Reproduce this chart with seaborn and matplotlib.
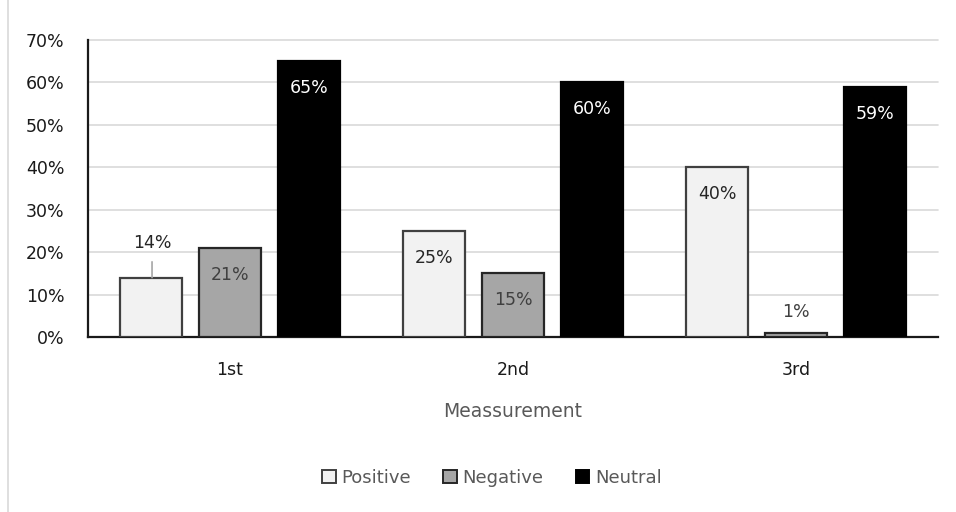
import matplotlib
matplotlib.use("Agg")
import matplotlib.pyplot as plt
import seaborn as sns
import pandas as pd
from matplotlib.lines import Line2D
from matplotlib.ticker import PercentFormatter

# Survey response shares per measurement round (percent)
rounds = ["1st", "2nd", "3rd"]
positive = [14, 25, 40]
negative = [21, 15, 1]
neutral = [65, 60, 59]
series_names = ["Positive", "Negative", "Neutral"]
y_ticks = [0, 10, 20, 30, 40, 50, 60, 70]

df = pd.DataFrame({
    "Meassurement": rounds * 3,
    "Sentiment": [s for s in series_names for _ in rounds],
    "Share": positive + negative + neutral,
})

sns.set_theme(style="white")
plt.rcParams["font.family"] = ["DejaVu Sans"]

fills = {"Positive": "#f2f2f2", "Negative": "#a6a6a6", "Neutral": "#000000"}
edges = {"Positive": "#404040", "Negative": "#262626", "Neutral": "#000000"}
label_colors = {"Positive": "#262626", "Negative": "#404040", "Neutral": "#ffffff"}

fig = plt.figure(figsize=(9.56, 5.12), dpi=100)
ax = fig.add_axes([88 / 956, 1 - 337 / 512, 850 / 956, 297 / 512])

sns.barplot(data=df, x="Meassurement", y="Share", hue="Sentiment",
            hue_order=series_names, palette=fills, width=0.837, gap=0.215,
            ax=ax, legend=False, zorder=3)

for container, name in zip(ax.containers, series_names):
    for bar in container:
        bar.set_edgecolor(edges[name])
        bar.set_linewidth(1.6)

# value labels: inside near the top, above very short bars,
# and lifted with a leader line where the bar is short
for container, name in zip(ax.containers, series_names):
    for bar in container:
        v = bar.get_height()
        cx = bar.get_x() + bar.get_width() / 2
        if v < 5:
            ax.annotate(f"{v:.0f}%", (cx, v), xytext=(0, 21),
                        textcoords="offset pixels", ha="center", va="center",
                        fontsize=12.5, color="#404040", zorder=5)
        elif name == "Positive" and v < 20:
            ax.annotate(f"{v:.0f}%", (cx + 0.005, v), xytext=(0, 35),
                        textcoords="offset pixels", ha="center", va="center",
                        fontsize=12.5, color="#262626", zorder=5,
                        arrowprops=dict(arrowstyle="-", color="#a6a6a6", lw=1.2,
                                        shrinkA=5, shrinkB=0))
        else:
            ax.annotate(f"{v:.0f}%", (cx, v), xytext=(0, -27),
                        textcoords="offset pixels", ha="center", va="center",
                        fontsize=12.5, color=label_colors[name], zorder=5)

ax.set_ylim(0, 70)
ax.set_yticks(y_ticks)
ax.yaxis.set_major_formatter(PercentFormatter(decimals=0))
ax.set_xlim(-0.5, 2.5)
ax.grid(axis="y", color="#d9d9d9", linewidth=1.2, zorder=0)
for gl in ax.get_ygridlines():
    gl.set_clip_on(False)
ax.set_axisbelow(True)
for side in ["top", "right"]:
    ax.spines[side].set_visible(False)
for side in ["left", "bottom"]:
    ax.spines[side].set_color("#1a1a1a")
    ax.spines[side].set_linewidth(1.6)
ax.tick_params(axis="both", length=0, labelsize=12.5, colors="#1a1a1a")
ax.tick_params(axis="y", pad=17)
ax.tick_params(axis="x", pad=17)
ax.set_ylabel("")
ax.set_xlabel("Meassurement", fontsize=13.5, color="#595959", labelpad=17)

handles = [plt.Rectangle((0, 0), 1, 1, facecolor=fills[n], edgecolor=edges[n], linewidth=1.4)
           for n in series_names]
leg = fig.legend(handles, series_names, loc="center",
                 bbox_to_anchor=(492 / 956, 1 - 478 / 512), ncol=3, frameon=False,
                 handlelength=0.75, handleheight=0.75, handletextpad=0.3,
                 columnspacing=1.8, fontsize=13)
for t in leg.get_texts():
    t.set_color("#595959")

# chart-area border on the left
fig.add_artist(Line2D([7.5 / 956, 7.5 / 956], [0, 1], transform=fig.transFigure,
                      color="#d9d9d9", linewidth=1.2))

fig.savefig("out.png", dpi=100)
